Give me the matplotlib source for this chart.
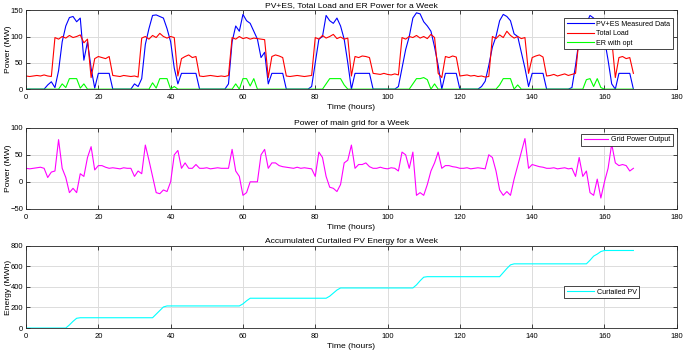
import matplotlib
matplotlib.use('Agg')
import matplotlib.pyplot as plt
import numpy as np

plt.rcParams['font.family'] = ['Liberation Sans', 'DejaVu Sans']

hours = np.arange(0, 169)

# total load (MW), one row per day, last value is hour 168
total_load = [
    25, 24, 25, 26, 25, 27, 25, 24, 98, 95, 100, 97, 102, 98, 100, 103, 88, 95, 22, 58, 62, 60, 58, 62,
    26, 25, 24, 26, 25, 24, 25, 23, 97, 100, 95, 102, 98, 106, 100, 97, 100, 98, 25, 58, 62, 65, 60, 62,
    25, 24, 25, 26, 25, 24, 25, 24, 26, 98, 95, 100, 96, 98, 95, 97, 96, 95, 94, 22, 62, 65, 63, 60,
    25, 24, 25, 26, 25, 24, 25, 26, 98, 95, 102, 97, 100, 104, 96, 99, 95, 97, 25, 62, 60, 63, 62, 60,
    30, 29, 28, 30, 28, 27, 29, 27, 98, 95, 100, 98, 102, 97, 100, 96, 104, 98, 30, 22, 62, 60, 63, 61,
    25, 26, 27, 25, 26, 24, 25, 23, 24, 100, 96, 103, 98, 110, 102, 97, 100, 96, 98, 30, 60, 63, 65, 61,
    25, 26, 28, 25, 27, 29, 26, 28, 30, 98, 96, 102, 95, 100, 104, 97, 99, 96, 95, 22, 60, 62, 58, 60,
    30]

pv_es = [
    0, 0, 0, 0, 0, 0, 8, 14, 3, 35, 90, 120, 136, 138, 128, 135, 55, 90, 40, 2, 30, 30, 30, 30,
    0, 0, 0, 0, 0, 0, 10, 5, 20, 85, 115, 140, 141, 138, 135, 115, 90, 40, 10, 30, 30, 30, 30, 30,
    0, 0, 0, 0, 0, 0, 0, 0, 10, 90, 120, 110, 142, 130, 125, 110, 95, 60, 70, 10, 30, 30, 30, 30,
    0, 0, 0, 0, 0, 0, 0, 5, 50, 95, 100, 140, 130, 125, 135, 120, 95, 50, 0, 30, 30, 30, 30, 30,
    0, 0, 0, 0, 0, 0, 0, 5, 40, 75, 100, 135, 145, 143, 128, 120, 110, 80, 45, 0, 30, 30, 30, 30,
    0, 0, 0, 0, 0, 0, 5, 15, 45, 80, 100, 130, 142, 138, 130, 105, 100, 70, 40, 5, 30, 30, 30, 30,
    0, 0, 0, 0, 0, 0, 0, 3, 45, 95, 110, 125, 140, 135, 115, 100, 95, 55, 10, 0, 30, 30, 30, 30,
    0]

er_opt = [
    0, 0, 0, 0, 0, 0, 0, 0, 0, 0, 10, 3, 20, 20, 20, 2, 10, 0, 0, 0, 0, 0, 0, 0,
    0, 0, 0, 0, 0, 0, 0, 0, 0, 0, 0, 12, 2, 20, 20, 20, 0, 5, 0, 0, 0, 0, 0, 0,
    0, 0, 0, 0, 0, 0, 0, 0, 0, 0, 10, 0, 20, 20, 6, 20, 0, 0, 0, 0, 0, 0, 0, 0,
    0, 0, 0, 0, 0, 0, 0, 0, 0, 0, 0, 10, 20, 20, 20, 20, 8, 0, 0, 0, 0, 0, 0, 0,
    0, 0, 0, 0, 0, 0, 0, 0, 0, 0, 0, 10, 20, 20, 22, 18, 0, 10, 0, 0, 0, 0, 0, 0,
    0, 0, 0, 0, 0, 0, 0, 0, 0, 0, 0, 8, 20, 20, 20, 0, 8, 0, 0, 0, 0, 0, 0, 0,
    0, 0, 0, 0, 0, 0, 0, 0, 0, 0, 0, 18, 20, 5, 20, 3, 0, 0, 0, 0, 0, 0, 0, 0,
    0]

grid_power = [
    25, 24, 25, 26, 27, 25, 8, 18, 20, 78, 25, 8, -20, -12, -20, 15, 10, 45, 65, 22, 30, 30, 27, 25,
    26, 25, 24, 26, 25, 25, 10, 20, 15, 68, 40, 10, -20, -22, -15, -18, 0, 50, 58, 25, 35, 25, 25, 32,
    25, 25, 26, 24, 25, 26, 25, 25, 25, 60, 20, 10, -25, -20, 0, 0, 0, 50, 60, 25, 35, 35, 30, 28,
    27, 26, 25, 27, 25, 26, 25, 24, 10, 55, 45, 10, -10, -12, -18, -5, 35, 40, 68, 25, 32, 32, 35, 28,
    25, 25, 27, 25, 24, 26, 25, 20, 55, 50, 25, 55, -25, -20, -25, -5, 20, 35, 55, 25, 30, 30, 28, 27,
    25, 25, 26, 24, 25, 26, 25, 24, 50, 45, 20, -15, -25, -18, -25, 5, 30, 55, 80, 25, 32, 30, 28, 27,
    25, 25, 26, 24, 25, 26, 24, 25, 10, 45, 10, 20, -20, -25, 5, -30, 0, 25, 70, 35, 30, 32, 30, 20,
    25]

curtailed = [
    0, 0, 0, 0, 0, 0, 0, 0, 0, 0, 0, 0, 30, 65, 95, 100, 100, 100, 100, 100, 100, 100, 100, 100,
    100, 100, 100, 100, 100, 100, 100, 100, 100, 100, 100, 100, 135, 170, 205, 215, 215, 215, 215, 215, 215, 215, 215, 215,
    215, 215, 215, 215, 215, 215, 215, 215, 215, 215, 215, 215, 235, 265, 290, 290, 290, 290, 290, 290, 290, 290, 290, 290,
    290, 290, 290, 290, 290, 290, 290, 290, 290, 290, 290, 290, 310, 340, 370, 390, 390, 390, 390, 390, 390, 390, 390, 390,
    390, 390, 390, 390, 390, 390, 390, 390, 390, 390, 390, 390, 420, 460, 495, 500, 500, 500, 500, 500, 500, 500, 500, 500,
    500, 500, 500, 500, 500, 500, 500, 500, 500, 500, 500, 500, 540, 580, 615, 625, 625, 625, 625, 625, 625, 625, 625, 625,
    625, 625, 625, 625, 625, 625, 625, 625, 625, 625, 625, 625, 660, 700, 720, 745, 755, 755, 755, 755, 755, 755, 755, 755,
    755]

tick_fs = 5.5
lab_fs = 6.1
leg_fs = 5.1
fig = plt.figure(figsize=(6.85, 3.51), dpi=100)
ax1 = fig.add_axes([0.038, 0.746, 0.950, 0.225])
ax2 = fig.add_axes([0.038, 0.405, 0.950, 0.231])
ax3 = fig.add_axes([0.038, 0.0655, 0.950, 0.234])


def style(ax, yticks, title, ylabel):
    ax.set_xlim(0, 180)
    ax.set_xticks(np.arange(0, 181, 20))
    ax.set_ylim(yticks[0], yticks[-1])
    ax.set_yticks(yticks)
    ax.grid(True, color='#dcdcdc', linewidth=0.7)
    ax.set_axisbelow(True)
    ax.tick_params(direction='in', top=True, right=True, labelsize=tick_fs,
                   length=3, width=0.6, color='#262626')
    ax.tick_params(axis='x', pad=3.5)
    ax.tick_params(axis='y', pad=2)
    for s in ax.spines.values():
        s.set_color('#262626')
        s.set_linewidth(0.6)
    ax.set_title(title, fontsize=lab_fs, pad=2)
    ax.set_xlabel('Time (hours)', fontsize=lab_fs, labelpad=2.5)
    ax.set_ylabel(ylabel, fontsize=lab_fs)
    ax.yaxis.set_label_coords(-0.022, 0.5)


def box(leg):
    leg.get_frame().set_edgecolor('#262626')
    leg.get_frame().set_linewidth(0.6)


leg_kw = dict(fontsize=leg_fs, fancybox=False, framealpha=1, borderpad=0.35,
              handletextpad=0.4, borderaxespad=0)

ax1.plot(hours, pv_es, color='blue', lw=0.8, label='PV+ES Measured Data')
ax1.plot(hours, total_load, color='red', lw=0.8, label='Total Load')
ax1.plot(hours, er_opt, color='#00ff00', lw=0.8, label='ER with opt')
style(ax1, [0, 50, 100, 150], 'PV+ES, Total Load and ER Power for a Week', 'Power (MW)')
box(ax1.legend(loc='upper right', bbox_to_anchor=(0.994, 0.9), handlelength=3.8,
               labelspacing=0.35, **leg_kw))

ax2.plot(hours, grid_power, color='magenta', lw=0.8, label='Grid Power Output')
style(ax2, [-50, 0, 50, 100], 'Power of main grid for a Week', 'Power (MW)')
box(ax2.legend(loc='upper right', bbox_to_anchor=(0.994, 0.926), handlelength=3.5, **leg_kw))

ax3.plot(hours, curtailed, color='cyan', lw=0.8, label='Curtailed PV')
style(ax3, [0, 200, 400, 600, 800], 'Accumulated Curtailed PV Energy for a Week', 'Energy (MWh)')
box(ax3.legend(loc='center right', bbox_to_anchor=(0.942, 0.433), handlelength=3.8, **leg_kw))

plt.savefig('out.png', dpi=100)
